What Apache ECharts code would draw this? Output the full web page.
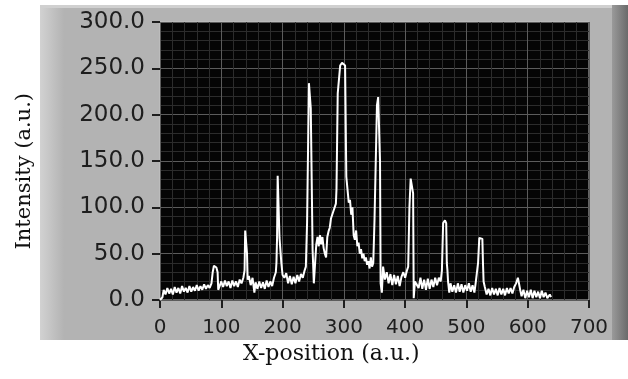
<!DOCTYPE html>
<html>
<head>
<meta charset="utf-8">
<script src="https://cdn.jsdelivr.net/npm/echarts@6/dist/echarts.min.js"></script>
<style>
html,body{margin:0;padding:0;background:#fff;}
#main{width:628px;height:379px;}
</style>
</head>
<body>
<div id="main"></div>
<script>
// spectrum (x position, intensity)
var position = [0,4,6,9,12,15,18,21,24,27,30,33,36,39,42,45,48,51,54,57,60,63,66,69,72,75,78,81,84,86,88,90,92,94,95,97,
  100,103,106,109,112,115,118,121,124,127,130,133,136,138,139,141,142,143,145,148,151,154,156,159,162,165,168,171,174,177,180,183,186,189,190,191,192,194,195,197,198,
  200,203,206,209,212,215,218,221,224,227,230,233,236,238,240,242,243,245,246,248,249,251,253,255,257,259,261,263,265,267,269,271,273,275,277,279,281,283,285,287,288,290,292,294,297,
  300,302,304,306,308,310,312,314,316,318,320,322,324,326,328,330,332,334,336,338,340,342,344,346,348,350,352,354,356,358,359,360,362,364,367,370,373,376,379,382,385,388,391,394,397,
  400,403,405,407,409,411,413,414,416,419,422,425,428,431,434,437,440,443,446,449,452,455,458,460,462,465,467,468,469,470,472,474,477,480,483,486,489,492,495,498,
  501,504,507,510,513,515,517,519,521,524,526,527,528,530,533,536,539,542,545,548,551,554,557,560,563,566,569,572,575,578,581,584,586,588,590,593,596,599,
  602,605,608,611,614,617,620,623,626,629,632,636,638];
var intensity = [0,3,11,6,13,7,12,6,14,8,13,7,15,9,13,8,15,9,14,10,16,10,15,11,17,12,16,13,18,30,37,39,35,30,11,12,
  20,14,21,15,20,13,21,15,20,14,22,18,24,32,75,75,50,22,26,16,24,8,19,12,20,13,19,12,21,14,20,15,24,30,40,67,134,134,67,67,40,
  27,24,29,18,26,17,25,18,27,20,28,24,32,36,84,84,234,234,207,207,54,18,18,60,68,58,70,60,68,56,50,46,68,74,78,88,92,96,100,104,120,223,223,253,256,
  256,253,133,133,105,108,92,100,70,65,75,58,62,50,55,45,50,42,46,38,42,34,46,36,40,86,86,210,219,219,150,18,8,36,22,30,18,28,16,27,17,26,15,25,30,
  24,32,36,100,131,131,115,2,20,22,13,24,12,22,11,23,12,22,14,24,16,24,20,32,83,86,83,40,32,20,8,18,9,16,8,18,9,17,8,16,
  10,18,9,16,8,18,20,40,67,68,66,40,20,14,6,12,5,13,6,12,5,13,6,12,5,13,7,13,7,14,18,24,24,10,4,11,2,10,
  3,11,2,10,3,9,2,10,3,8,2,6,3];

var xTicks = [0,100,200,300,400,500,600,700];
var yTicks = [0,50,100,150,200,250,300];

var points = [];
for (var i = 0; i < position.length; i++) {
  points.push([position[i], intensity[i]]);
}

var chart = echarts.init(document.getElementById('main'), null, {renderer: 'canvas'});

chart.setOption({
  animation: false,
  backgroundColor: '#ffffff',
  graphic: [
    // grey LabVIEW style panel
    {type: 'rect', z: -10, shape: {x: 40, y: 5, width: 588, height: 335}, style: {fill: '#b3b3b3'}},
    {type: 'rect', z: -9, shape: {x: 40, y: 5, width: 24, height: 335},
      style: {fill: new echarts.graphic.LinearGradient(0, 0, 1, 0, [{offset: 0, color: '#d2d2d2'}, {offset: 1, color: '#b3b3b3'}])}},
    {type: 'rect', z: -9, shape: {x: 40, y: 5, width: 588, height: 3}, style: {fill: '#d0d0d0'}},
    {type: 'rect', z: -9, shape: {x: 612, y: 5, width: 16, height: 335},
      style: {fill: new echarts.graphic.LinearGradient(0, 0, 1, 0, [{offset: 0, color: '#9a9a9a'}, {offset: 1, color: '#6a6a6a'}])}},
    {type: 'text', left: 14, top: 93, rotation: Math.PI / 2, originX: 0, originY: 0,
      style: {text: 'Intensity (a.u.)', fill: '#111', font: '21px "DejaVu Serif"'}},
    {type: 'text', left: 243, top: 343,
      style: {text: 'X-position (a.u.)', fill: '#111', font: '22px "DejaVu Serif"'}}
  ],
  grid: {
    left: 160, right: 39, top: 22, bottom: 79,
    show: true, backgroundColor: '#050505', borderColor: '#c4c4c4', borderWidth: 1
  },
  xAxis: {
    type: 'value', min: 0, max: 700, interval: 100, offset: 4,
    axisLine: {show: false},
    axisTick: {show: true, length: 8, lineStyle: {color: '#1e1e1e', width: 2}},
    axisLabel: {margin: 14, color: '#1e1e1e', fontSize: 20, fontFamily: 'DejaVu Sans',
      formatter: function (v) { return xTicks.indexOf(v) >= 0 ? String(v) : ''; }},
    splitLine: {show: true, lineStyle: {color: '#5c5c5c', width: 1}},
    minorTick: {show: false, splitNumber: 5},
    minorSplitLine: {show: true, lineStyle: {color: '#2c2c2c', width: 1}}
  },
  yAxis: {
    type: 'value', min: 0, max: 300, interval: 50, offset: 4,
    axisLine: {show: false},
    axisTick: {show: true, length: 8, lineStyle: {color: '#1e1e1e', width: 2}},
    axisLabel: {margin: 11, color: '#1e1e1e', fontSize: 23, fontFamily: 'DejaVu Sans',
      formatter: function (v) { return yTicks.indexOf(v) >= 0 ? v.toFixed(1) : ''; }},
    splitLine: {show: true, lineStyle: {color: '#5c5c5c', width: 1}},
    minorTick: {show: false, splitNumber: 5},
    minorSplitLine: {show: true, lineStyle: {color: '#2c2c2c', width: 1}}
  },
  series: [{
    type: 'line',
    data: points,
    showSymbol: false,
    lineStyle: {color: '#ffffff', width: 2},
    z: 5
  }]
});
</script>
</body>
</html>
